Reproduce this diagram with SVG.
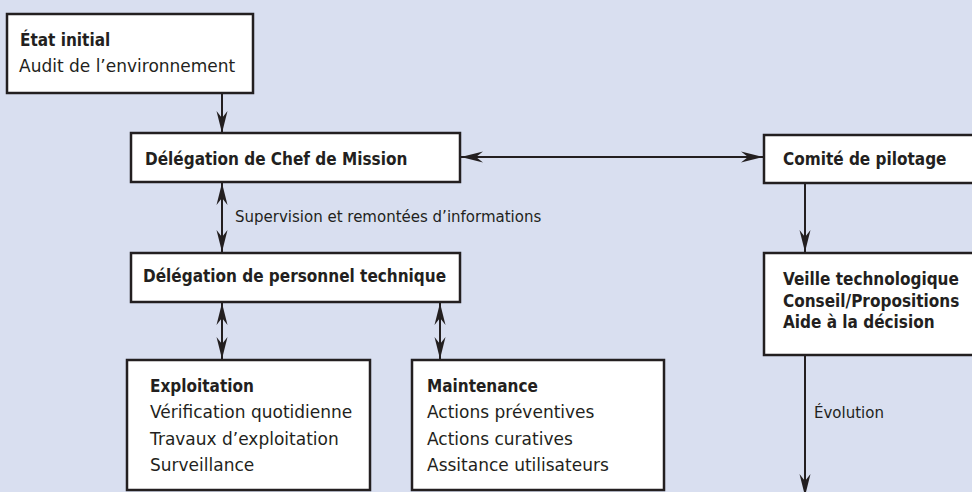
<svg xmlns="http://www.w3.org/2000/svg" width="972" height="492" viewBox="0 0 972 492">
<style>
.box{fill:#ffffff;stroke:#231f20;stroke-width:2.5}
.t{font-family:"DejaVu Sans",sans-serif;font-size:17px;fill:#231f20}
.b{font-family:"DejaVu Sans Condensed","DejaVu Sans",sans-serif;font-stretch:condensed;font-weight:bold;font-size:17px;fill:#231f20}
.lbl{font-family:"DejaVu Sans",sans-serif;font-size:15px;fill:#231f20}
.c{fill:none;stroke:#231f20;stroke-width:2}
.one{marker-end:url(#ah)}
.two{marker-start:url(#ah);marker-end:url(#ah)}
</style>
<defs>
<marker id="ah" markerUnits="userSpaceOnUse" markerWidth="26" markerHeight="14" viewBox="-23 -7 24 14" refX="0" refY="0" orient="auto-start-reverse">
<path d="M0,0 L-22,-5.5 L-15,0 L-22,5.5 Z" fill="#231f20"/>
</marker>
</defs>
<rect width="972" height="492" fill="#d9dff0"/>
<g id="connectors">
<line class="c one" x1="222" y1="93" x2="222" y2="133"/>
<line class="c two" x1="222" y1="183" x2="222" y2="252"/>
<line class="c two" x1="461" y1="157" x2="763" y2="157"/>
<line class="c one" x1="805" y1="184" x2="805" y2="252"/>
<line class="c one" x1="805" y1="356" x2="805" y2="496"/>
<line class="c two" x1="222" y1="303" x2="222" y2="359"/>
<line class="c two" x1="440" y1="303" x2="440" y2="359"/>
<text class="lbl" x="235" y="222">Supervision et remontées d’informations</text>
<text class="lbl" x="814" y="418">Évolution</text>
</g>
<g id="etat-initial">
<rect class="box" x="7" y="14" width="246" height="79"/>
<text class="b" x="20" y="46">État initial</text>
<text class="t" x="19" y="72">Audit de l’environnement</text>
</g>
<g id="chef-mission">
<rect class="box" x="131" y="133" width="329" height="49"/>
<text class="b" x="145" y="165">Délégation de Chef de Mission</text>
</g>
<g id="comite">
<rect class="box" x="764" y="135" width="215" height="48"/>
<text class="b" x="783" y="165">Comité de pilotage</text>
</g>
<g id="personnel-technique">
<rect class="box" x="131" y="253" width="329" height="49"/>
<text class="b" x="143" y="282">Délégation de personnel technique</text>
</g>
<g id="veille">
<rect class="box" x="764" y="253" width="215" height="102"/>
<text class="b" x="783" y="285">Veille technologique</text>
<text class="b" x="783" y="307">Conseil/Propositions</text>
<text class="b" x="783" y="328">Aide à la décision</text>
</g>
<g id="exploitation">
<rect class="box" x="127" y="360" width="243" height="130"/>
<text class="b" x="150" y="392">Exploitation</text>
<text class="t" x="150" y="418">Vérification quotidienne</text>
<text class="t" x="150" y="445">Travaux d’exploitation</text>
<text class="t" x="150" y="471">Surveillance</text>
</g>
<g id="maintenance">
<rect class="box" x="412" y="360" width="252" height="130"/>
<text class="b" x="427" y="392">Maintenance</text>
<text class="t" x="427" y="418">Actions préventives</text>
<text class="t" x="427" y="445">Actions curatives</text>
<text class="t" x="427" y="471">Assitance utilisateurs</text>
</g>
</svg>
